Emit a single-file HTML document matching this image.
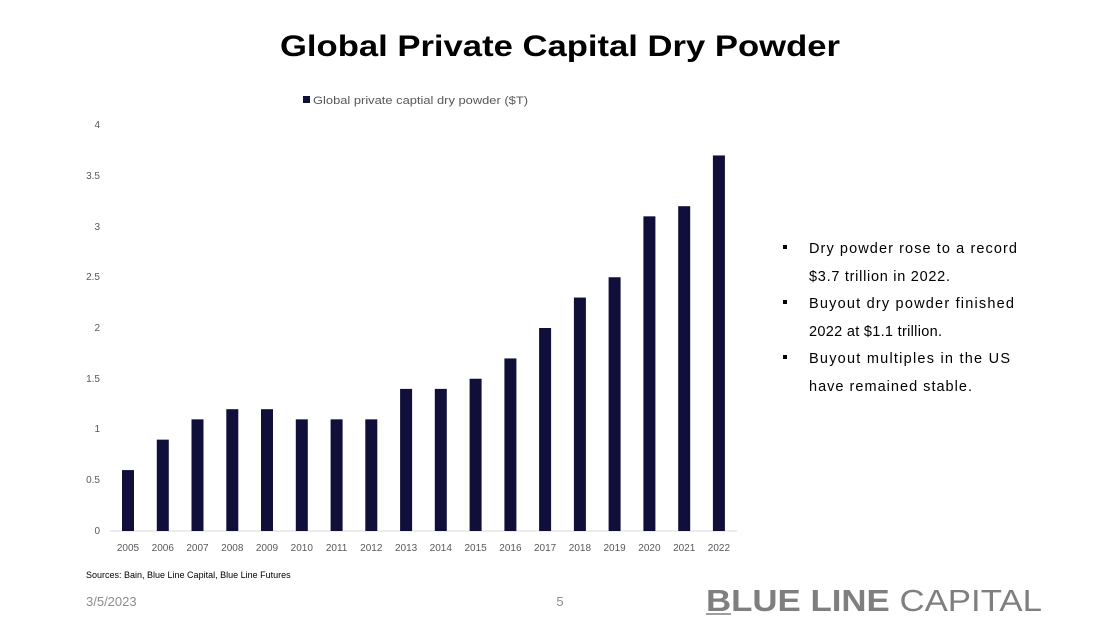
<!DOCTYPE html>
<html><head><meta charset="utf-8"><style>
body{margin:0;width:1120px;height:630px;background:#fff;overflow:hidden;font-family:"Liberation Sans",sans-serif}
</style></head><body>
<svg width="1120" height="630" xmlns="http://www.w3.org/2000/svg" font-family="Liberation Sans, sans-serif">
<text x="280" y="56" textLength="560" lengthAdjust="spacingAndGlyphs" font-size="30" font-weight="bold" fill="#000">Global Private Capital Dry Powder</text>
<rect x="303" y="96" width="7" height="7" fill="#0f0f3a"/>
<text x="313" y="104" font-size="11" textLength="215" lengthAdjust="spacingAndGlyphs" fill="#595959">Global private captial dry powder ($T)</text>
<g font-size="10" fill="#595959" text-anchor="end">
<text x="100" y="128">4</text><text x="100" y="179">3.5</text><text x="100" y="230">3</text>
<text x="100" y="280">2.5</text><text x="100" y="331">2</text><text x="100" y="382">1.5</text>
<text x="100" y="432">1</text><text x="100" y="483">0.5</text><text x="100" y="534">0</text>
</g>
<line x1="110" y1="531" x2="737" y2="531" stroke="#d9d9d9" stroke-width="1"/>
<g fill="#0f0f3a">
<rect x="122" y="470.1" width="12" height="60.9"/>
<rect x="156.8" y="439.65" width="12" height="91.35"/>
<rect x="191.5" y="419.35" width="12" height="111.65"/>
<rect x="226.3" y="409.2" width="12" height="121.8"/>
<rect x="261" y="409.2" width="12" height="121.8"/>
<rect x="295.8" y="419.35" width="12" height="111.65"/>
<rect x="330.6" y="419.35" width="12" height="111.65"/>
<rect x="365.3" y="419.35" width="12" height="111.65"/>
<rect x="400.1" y="388.9" width="12" height="142.1"/>
<rect x="434.8" y="388.9" width="12" height="142.1"/>
<rect x="469.6" y="378.75" width="12" height="152.25"/>
<rect x="504.4" y="358.45" width="12" height="172.55"/>
<rect x="539.1" y="328" width="12" height="203"/>
<rect x="573.9" y="297.55" width="12" height="233.45"/>
<rect x="608.6" y="277.25" width="12" height="253.75"/>
<rect x="643.4" y="216.35" width="12" height="314.65"/>
<rect x="678.2" y="206.2" width="12" height="324.8"/>
<rect x="712.9" y="155.45" width="12" height="375.55"/>
</g>
<g font-size="10" fill="#595959" text-anchor="middle">
<text x="128" y="551">2005</text><text x="162.8" y="551">2006</text><text x="197.5" y="551">2007</text>
<text x="232.3" y="551">2008</text><text x="267" y="551">2009</text><text x="301.8" y="551">2010</text>
<text x="336.6" y="551">2011</text><text x="371.3" y="551">2012</text><text x="406.1" y="551">2013</text>
<text x="440.8" y="551">2014</text><text x="475.6" y="551">2015</text><text x="510.4" y="551">2016</text>
<text x="545.1" y="551">2017</text><text x="579.9" y="551">2018</text><text x="614.6" y="551">2019</text>
<text x="649.4" y="551">2020</text><text x="684.2" y="551">2021</text><text x="718.9" y="551">2022</text>
</g>
<text x="86" y="578" font-size="9" fill="#000">Sources: Bain, Blue Line Capital, Blue Line Futures</text>
<text x="86" y="606" font-size="13" fill="#8c8c8c">3/5/2023</text>
<text x="560" y="606" font-size="13" fill="#8c8c8c" text-anchor="middle">5</text>
<g font-size="14.5" fill="#000">
<rect x="783" y="245" width="4" height="4"/>
<text x="809" y="253" textLength="208" lengthAdjust="spacing">Dry powder rose to a record</text>
<text x="809" y="281" textLength="141" lengthAdjust="spacing">$3.7 trillion in 2022.</text>
<rect x="783" y="300" width="4" height="4"/>
<text x="809" y="308" textLength="205" lengthAdjust="spacing">Buyout dry powder finished</text>
<text x="809" y="336" textLength="133" lengthAdjust="spacing">2022 at $1.1 trillion.</text>
<rect x="783" y="355" width="4" height="4"/>
<text x="809" y="363" textLength="201" lengthAdjust="spacing">Buyout multiples  in the US</text>
<text x="809" y="391" textLength="163" lengthAdjust="spacing">have remained stable.</text>
</g>
<text x="706" y="611" font-size="31" fill="#7f7f7f" textLength="336" lengthAdjust="spacingAndGlyphs"><tspan font-weight="bold">BLUE LINE</tspan> CAPITAL</text>
<line x1="706" y1="614" x2="731" y2="614" stroke="#7f7f7f" stroke-width="1.5"/>
</svg>
</body></html>
